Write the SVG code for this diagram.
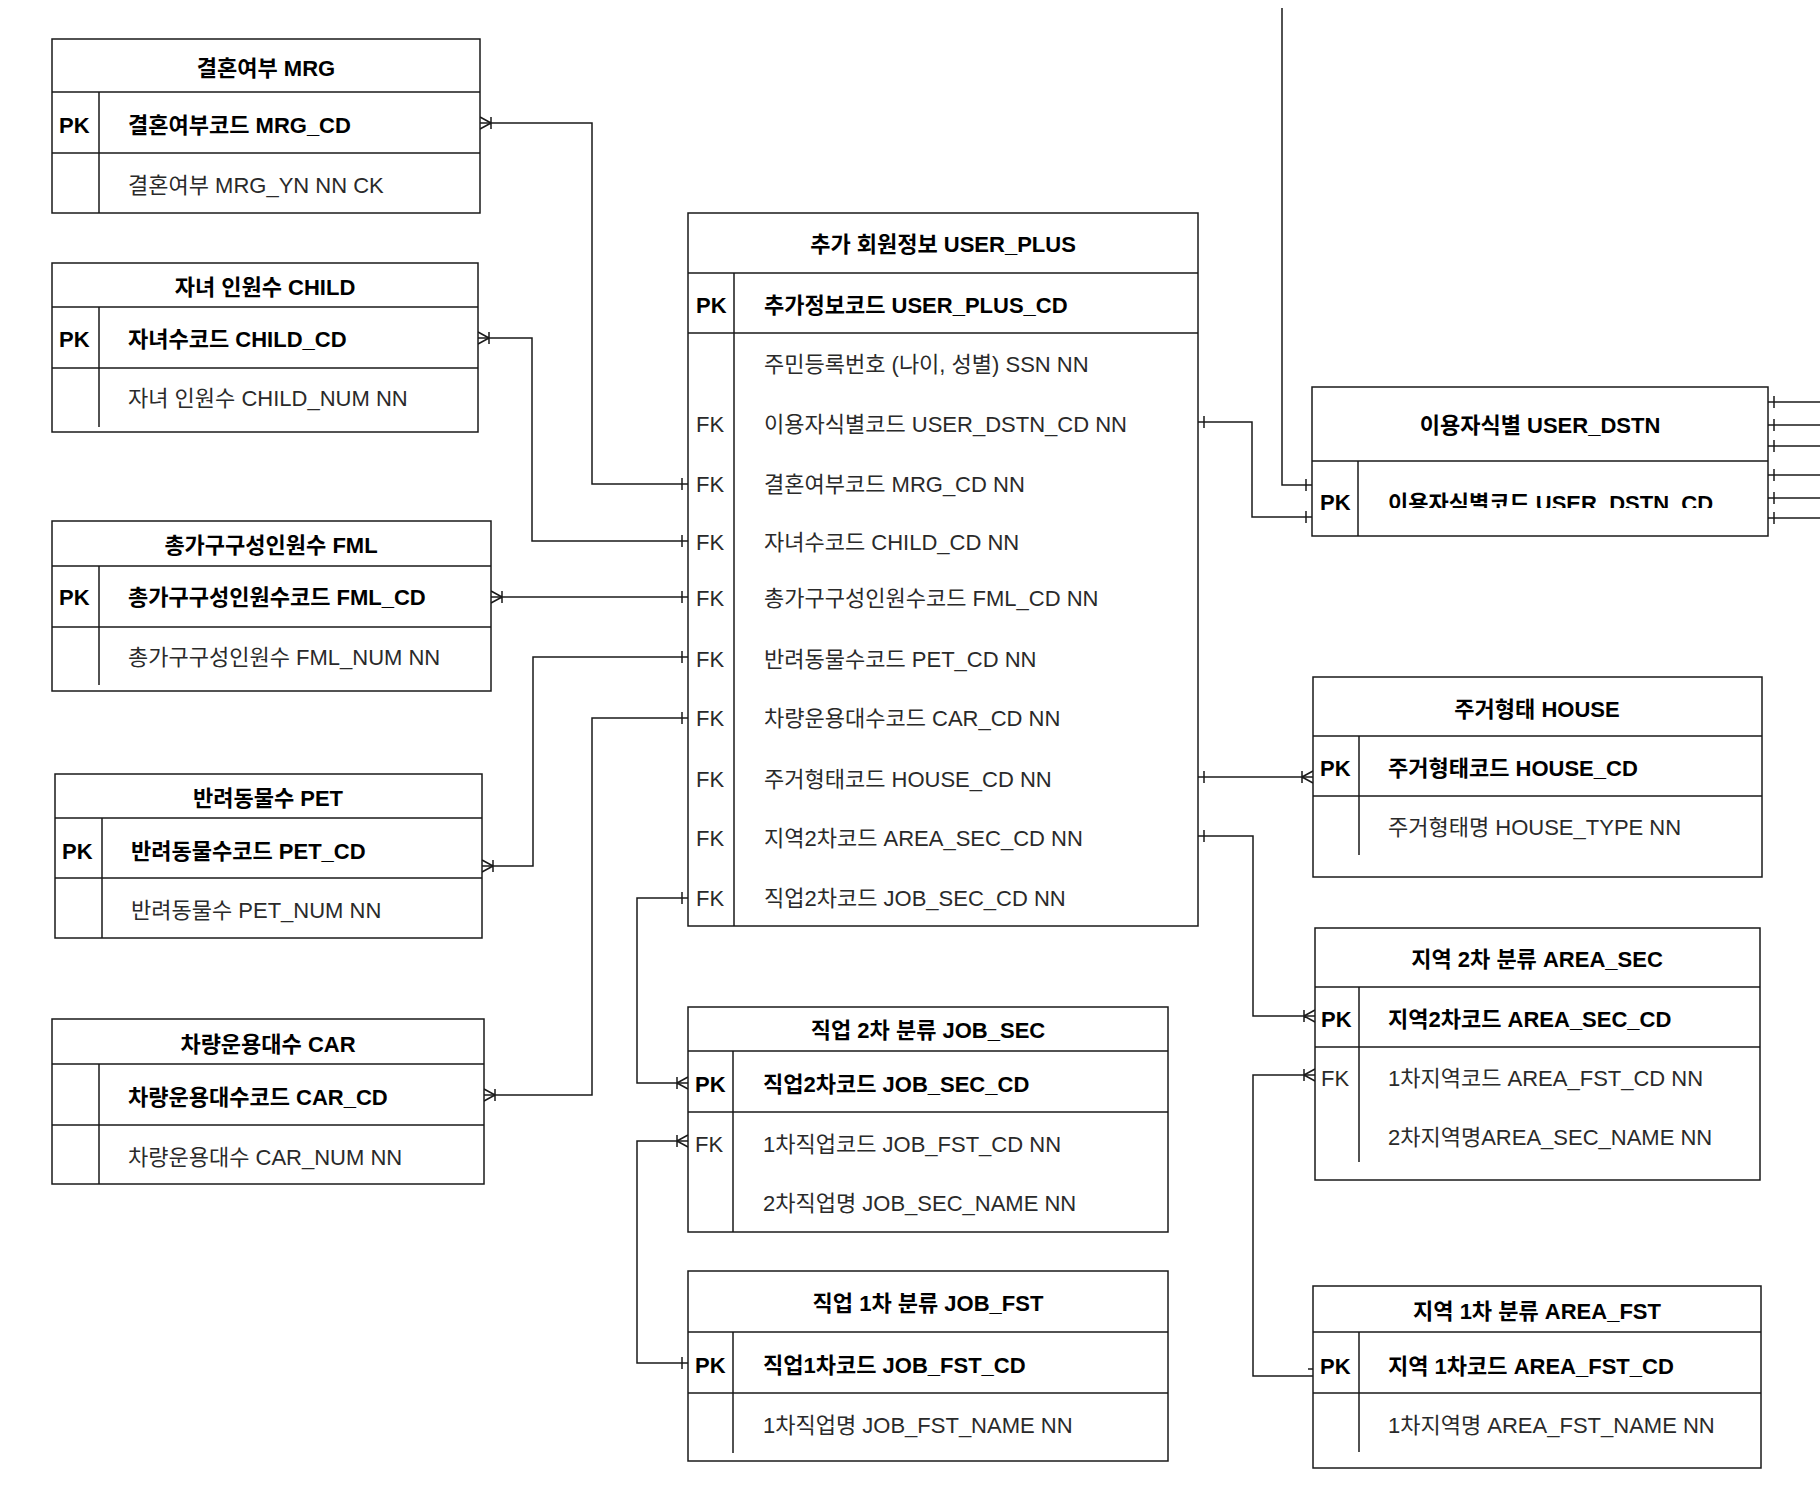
<svg xmlns="http://www.w3.org/2000/svg" width="1820" height="1504" viewBox="0 0 1820 1504">
<style>
.box{fill:#fff;stroke:#1a1a1a;stroke-width:1.5}
.ln{fill:none;stroke:#1a1a1a;stroke-width:1.5}
.t{font-family:"Liberation Sans","Noto Sans CJK KR",sans-serif;font-size:22px;fill:#2a2a2a}
.b{font-weight:bold;fill:#000}
.c{text-anchor:middle}
</style>
<defs>
<marker id="one" markerUnits="userSpaceOnUse" orient="auto-start-reverse" refX="0" refY="0" markerWidth="30" markerHeight="30" overflow="visible">
<path d="M-6,-6V6" fill="none" stroke="#1a1a1a" stroke-width="1.5"/>
</marker>
<marker id="many" markerUnits="userSpaceOnUse" orient="auto-start-reverse" refX="0" refY="0" markerWidth="30" markerHeight="30" overflow="visible">
<path d="M-11,-6V6M-11,0L0,-6M-11,0L0,6" fill="none" stroke="#1a1a1a" stroke-width="1.5"/>
</marker>
<clipPath id="dstnClip"><rect x="1360" y="480" width="400" height="28"/></clipPath>
</defs>
<rect width="1820" height="1504" fill="#fff"/>

<g id="connectors">
<path class="ln" d="M480,123H592V484H688" marker-start="url(#many)" marker-end="url(#one)"/>
<path class="ln" d="M478,338H532V541H688" marker-start="url(#many)" marker-end="url(#one)"/>
<path class="ln" d="M491,597H688" marker-start="url(#many)" marker-end="url(#one)"/>
<path class="ln" d="M482,866H533V657H688" marker-start="url(#many)" marker-end="url(#one)"/>
<path class="ln" d="M484,1095H592V718H688" marker-start="url(#many)" marker-end="url(#one)"/>
<path class="ln" d="M688,898H637V1083H688" marker-start="url(#one)" marker-end="url(#many)"/>
<path class="ln" d="M688,1141H637V1363H688" marker-start="url(#many)" marker-end="url(#one)"/>
<path class="ln" d="M1198,422H1252V517H1312" marker-start="url(#one)" marker-end="url(#one)"/>
<path class="ln" d="M1282,8V485H1312" marker-end="url(#one)"/>
<path class="ln" d="M1198,777H1313" marker-start="url(#one)" marker-end="url(#many)"/>
<path class="ln" d="M1198,836H1253V1016H1315" marker-start="url(#one)" marker-end="url(#many)"/>
<path class="ln" d="M1315,1075H1253V1376H1313" marker-start="url(#many)"/>
<path class="ln" d="M1308,1369H1319"/>
<path class="ln" d="M1768,402H1820" marker-start="url(#one)"/>
<path class="ln" d="M1768,425H1820" marker-start="url(#one)"/>
<path class="ln" d="M1768,446H1820" marker-start="url(#one)"/>
<path class="ln" d="M1768,475H1820" marker-start="url(#one)"/>
<path class="ln" d="M1768,498H1820" marker-start="url(#one)"/>
<path class="ln" d="M1768,518H1820" marker-start="url(#one)"/>
</g>

<g id="MRG">
<rect class="box" x="52" y="39" width="428" height="174"/>
<path class="ln" d="M52,92H480M52,153H480M99,92V213"/>
<text class="t b c" x="266" y="76">결혼여부 MRG</text>
<text class="t b" x="59" y="133">PK</text>
<text class="t b" x="128" y="133">결혼여부코드 MRG_CD</text>
<text class="t" x="128" y="193">결혼여부 MRG_YN NN CK</text>
</g>

<g id="CHILD">
<rect class="box" x="52" y="263" width="426" height="169"/>
<path class="ln" d="M52,307H478M52,368H478M99,307V427"/>
<text class="t b c" x="265" y="295">자녀 인원수 CHILD</text>
<text class="t b" x="59" y="347">PK</text>
<text class="t b" x="128" y="347">자녀수코드 CHILD_CD</text>
<text class="t" x="128" y="406">자녀 인원수 CHILD_NUM NN</text>
</g>

<g id="FML">
<rect class="box" x="52" y="521" width="439" height="170"/>
<path class="ln" d="M52,566H491M52,627H491M99,566V685"/>
<text class="t b c" x="271" y="553">총가구구성인원수 FML</text>
<text class="t b" x="59" y="605">PK</text>
<text class="t b" x="128" y="605">총가구구성인원수코드 FML_CD</text>
<text class="t" x="128" y="665">총가구구성인원수 FML_NUM NN</text>
</g>

<g id="PET">
<rect class="box" x="55" y="774" width="427" height="164"/>
<path class="ln" d="M55,818H482M55,878H482M102,818V938"/>
<text class="t b c" x="268" y="806">반려동물수 PET</text>
<text class="t b" x="62" y="859">PK</text>
<text class="t b" x="131" y="859">반려동물수코드 PET_CD</text>
<text class="t" x="131" y="918">반려동물수 PET_NUM NN</text>
</g>

<g id="CAR">
<rect class="box" x="52" y="1019" width="432" height="165"/>
<path class="ln" d="M52,1064H484M52,1125H484M99,1064V1184"/>
<text class="t b c" x="268" y="1052">차량운용대수 CAR</text>
<text class="t b" x="128" y="1105">차량운용대수코드 CAR_CD</text>
<text class="t" x="128" y="1165">차량운용대수 CAR_NUM NN</text>
</g>

<g id="USER_PLUS">
<rect class="box" x="688" y="213" width="510" height="713"/>
<path class="ln" d="M688,273H1198M688,333H1198M734,273V926"/>
<text class="t b c" x="943" y="252">추가 회원정보 USER_PLUS</text>
<text class="t b" x="696" y="313">PK</text>
<text class="t b" x="764" y="313">추가정보코드 USER_PLUS_CD</text>
<text class="t" x="764" y="372">주민등록번호 (나이, 성별) SSN NN</text>
<text class="t" x="696" y="432">FK</text>
<text class="t" x="764" y="432">이용자식별코드 USER_DSTN_CD NN</text>
<text class="t" x="696" y="492">FK</text>
<text class="t" x="764" y="492">결혼여부코드 MRG_CD NN</text>
<text class="t" x="696" y="550">FK</text>
<text class="t" x="764" y="550">자녀수코드 CHILD_CD NN</text>
<text class="t" x="696" y="606">FK</text>
<text class="t" x="764" y="606">총가구구성인원수코드 FML_CD NN</text>
<text class="t" x="696" y="667">FK</text>
<text class="t" x="764" y="667">반려동물수코드 PET_CD NN</text>
<text class="t" x="696" y="726">FK</text>
<text class="t" x="764" y="726">차량운용대수코드 CAR_CD NN</text>
<text class="t" x="696" y="787">FK</text>
<text class="t" x="764" y="787">주거형태코드 HOUSE_CD NN</text>
<text class="t" x="696" y="846">FK</text>
<text class="t" x="764" y="846">지역2차코드 AREA_SEC_CD NN</text>
<text class="t" x="696" y="906">FK</text>
<text class="t" x="764" y="906">직업2차코드 JOB_SEC_CD NN</text>
</g>

<g id="JOB_SEC">
<rect class="box" x="688" y="1007" width="480" height="225"/>
<path class="ln" d="M688,1051H1168M688,1112H1168M733,1051V1232"/>
<text class="t b c" x="928" y="1038">직업 2차 분류 JOB_SEC</text>
<text class="t b" x="695" y="1092">PK</text>
<text class="t b" x="763" y="1092">직업2차코드 JOB_SEC_CD</text>
<text class="t" x="695" y="1152">FK</text>
<text class="t" x="763" y="1152">1차직업코드 JOB_FST_CD NN</text>
<text class="t" x="763" y="1211">2차직업명 JOB_SEC_NAME NN</text>
</g>

<g id="JOB_FST">
<rect class="box" x="688" y="1271" width="480" height="190"/>
<path class="ln" d="M688,1332H1168M688,1393H1168M733,1332V1453"/>
<text class="t b c" x="928" y="1311">직업 1차 분류 JOB_FST</text>
<text class="t b" x="695" y="1373">PK</text>
<text class="t b" x="763" y="1373">직업1차코드 JOB_FST_CD</text>
<text class="t" x="763" y="1433">1차직업명 JOB_FST_NAME NN</text>
</g>

<g id="USER_DSTN">
<rect class="box" x="1312" y="387" width="456" height="149"/>
<path class="ln" d="M1312,461H1768M1358,461V536"/>
<text class="t b c" x="1540" y="433">이용자식별 USER_DSTN</text>
<text class="t b" x="1320" y="510">PK</text>
<text class="t b" x="1388" y="511" clip-path="url(#dstnClip)">이용자식별코드 USER_DSTN_CD</text>
</g>

<g id="HOUSE">
<rect class="box" x="1313" y="677" width="449" height="200"/>
<path class="ln" d="M1313,736H1762M1313,796H1762M1359,736V855"/>
<text class="t b c" x="1537" y="717">주거형태 HOUSE</text>
<text class="t b" x="1320" y="776">PK</text>
<text class="t b" x="1388" y="776">주거형태코드 HOUSE_CD</text>
<text class="t" x="1388" y="835">주거형태명 HOUSE_TYPE NN</text>
</g>

<g id="AREA_SEC">
<rect class="box" x="1315" y="928" width="445" height="252"/>
<path class="ln" d="M1315,987H1760M1315,1047H1760M1359,987V1162"/>
<text class="t b c" x="1537" y="967">지역 2차 분류 AREA_SEC</text>
<text class="t b" x="1321" y="1027">PK</text>
<text class="t b" x="1388" y="1027">지역2차코드 AREA_SEC_CD</text>
<text class="t" x="1321" y="1086">FK</text>
<text class="t" x="1388" y="1086">1차지역코드 AREA_FST_CD NN</text>
<text class="t" x="1388" y="1145">2차지역명AREA_SEC_NAME NN</text>
</g>

<g id="AREA_FST">
<rect class="box" x="1313" y="1286" width="448" height="182"/>
<path class="ln" d="M1313,1332H1761M1313,1393H1761M1359,1332V1452"/>
<text class="t b c" x="1537" y="1319">지역 1차 분류 AREA_FST</text>
<text class="t b" x="1320" y="1374">PK</text>
<text class="t b" x="1388" y="1374">지역 1차코드 AREA_FST_CD</text>
<text class="t" x="1388" y="1433">1차지역명 AREA_FST_NAME NN</text>
</g>
</svg>
